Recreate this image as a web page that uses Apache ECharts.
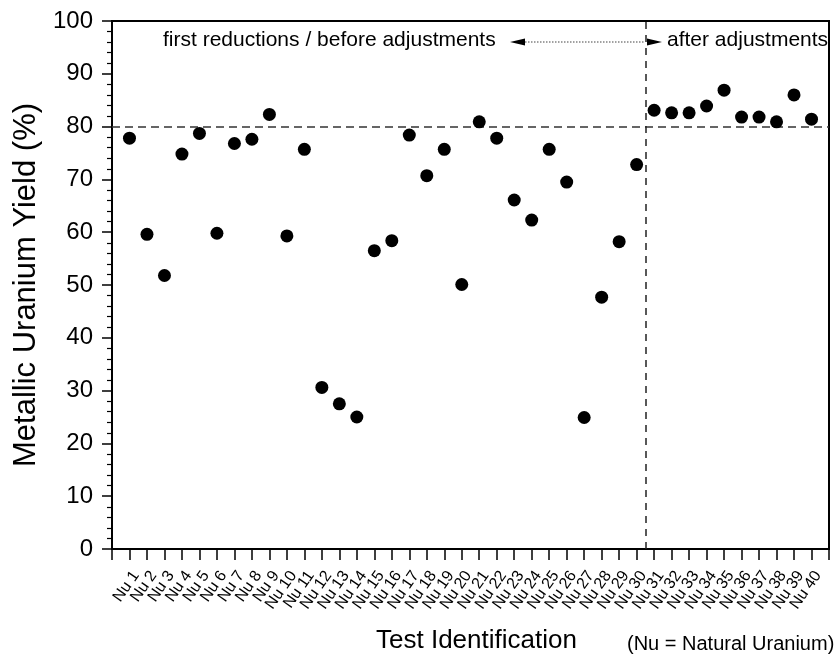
<!DOCTYPE html>
<html>
<head>
<meta charset="utf-8">
<script src="https://cdn.jsdelivr.net/npm/echarts@6/dist/echarts.min.js"></script>
<style>
  html, body { margin: 0; padding: 0; background: #fff; }
  #chart { width: 837px; height: 661px; }
</style>
</head>
<body>
<div id="chart"></div>
<script>
// Test identifiers along the x axis
const tests = [
  'Nu 1', 'Nu 2', 'Nu 3', 'Nu 4', 'Nu 5', 'Nu 6', 'Nu 7', 'Nu 8', 'Nu 9', 'Nu 10',
  'Nu 11', 'Nu 12', 'Nu 13', 'Nu 14', 'Nu 15', 'Nu 16', 'Nu 17', 'Nu 18', 'Nu 19', 'Nu 20',
  'Nu 21', 'Nu 22', 'Nu 23', 'Nu 24', 'Nu 25', 'Nu 26', 'Nu 27', 'Nu 28', 'Nu 29', 'Nu 30',
  'Nu 31', 'Nu 32', 'Nu 33', 'Nu 34', 'Nu 35', 'Nu 36', 'Nu 37', 'Nu 38', 'Nu 39', 'Nu 40'
];

// Metallic uranium yield per test (%)
const yields = [
  77.8, 59.6, 51.8, 74.8, 78.7, 59.8, 76.8, 77.6, 82.3, 59.3,
  75.7, 30.6, 27.5, 25.0, 56.5, 58.4, 78.4, 70.7, 75.7, 50.1,
  80.9, 77.8, 66.1, 62.3, 75.7, 69.5, 24.9, 47.7, 58.2, 72.8,
  83.1, 82.6, 82.6, 83.9, 86.9, 81.8, 81.8, 80.9, 86.0, 81.4
];

// Reference levels: target yield and the split between the two campaigns
const targetYield = 80;
const adjustmentAfter = 30.5;

const yTicks = [0, 100, 10];

const FONT = '"Liberation Sans", Arial, sans-serif';

const chart = echarts.init(document.getElementById('chart'), null, { renderer: 'canvas' });

const points = yields.map((v, i) => [i + 1, v]);

chart.setOption({
  animation: false,
  backgroundColor: '#ffffff',
  grid: {
    left: 112, right: 8, top: 21, bottom: 112,
    show: true, borderColor: '#000', borderWidth: 2, backgroundColor: 'transparent'
  },
  xAxis: {
    type: 'value',
    min: 0, max: tests.length + 1, interval: 1,
    axisLine: { show: true, onZero: false, lineStyle: { color: '#000', width: 2 } },
    axisTick: { show: true, inside: false, length: 11, lineStyle: { color: '#000', width: 1.5 } },
    splitLine: { show: false },
    axisLabel: {
      rotate: 55,
      margin: 19,
      verticalAlign: 'top',
      fontFamily: FONT,
      fontSize: 16,
      color: '#000',
      showMinLabel: true,
      showMaxLabel: true,
      formatter: v => (v >= 1 && v <= tests.length) ? tests[v - 1] : ''
    }
  },
  yAxis: {
    type: 'value',
    min: yTicks[0], max: yTicks[1], interval: yTicks[2],
    name: 'Metallic Uranium Yield (%)',
    nameLocation: 'middle',
    nameGap: 68,
    nameTextStyle: { fontFamily: FONT, fontSize: 31, color: '#000' },
    axisLine: { show: true, lineStyle: { color: '#000', width: 2 } },
    axisTick: { show: true, inside: false, length: 10, lineStyle: { color: '#000', width: 1.5 } },
    minorTick: { show: true, splitNumber: 5, length: 5, lineStyle: { color: '#000', width: 1.2 } },
    splitLine: { show: false },
    axisLabel: { margin: 19, fontFamily: FONT, fontSize: 24, color: '#000' }
  },
  series: [{
    type: 'scatter',
    data: points,
    symbol: 'circle',
    symbolSize: 13,
    itemStyle: { color: '#000', opacity: 1 },
    z: 5,
    markLine: {
      silent: true,
      symbol: 'none',
      label: { show: false },
      animation: false,
      data: [
        { yAxis: targetYield, lineStyle: { color: '#333', width: 1.5, type: [8, 5] } },
        { xAxis: adjustmentAfter, lineStyle: { color: '#222', width: 1.5, type: [7, 6] } }
      ]
    }
  }],
  graphic: [
    {
      type: 'text', left: 163, top: 30,
      style: { text: 'first reductions / before adjustments', font: '21px ' + FONT, fill: '#000' }
    },
    {
      type: 'text', left: 667, top: 30,
      style: { text: 'after adjustments', font: '21px ' + FONT, fill: '#000' }
    },
    // dotted double-headed arrow across the split
    {
      type: 'line', shape: { x1: 522, y1: 42, x2: 645, y2: 42 },
      style: { stroke: '#444', lineWidth: 1.2, lineDash: [1.5, 1.5] }
    },
    {
      type: 'polygon', shape: { points: [[510, 42], [525, 38.5], [525, 45.5]] },
      style: { fill: '#000' }
    },
    {
      type: 'polygon', shape: { points: [[662, 42], [647, 38.5], [647, 45.5]] },
      style: { fill: '#000' }
    },
    {
      type: 'text', left: 376, top: 628,
      style: { text: 'Test Identification', font: '26px ' + FONT, fill: '#000' }
    },
    {
      type: 'text', left: 627, top: 634,
      style: { text: '(Nu = Natural Uranium)', font: '20px ' + FONT, fill: '#000' }
    }
  ]
});
</script>
</body>
</html>
